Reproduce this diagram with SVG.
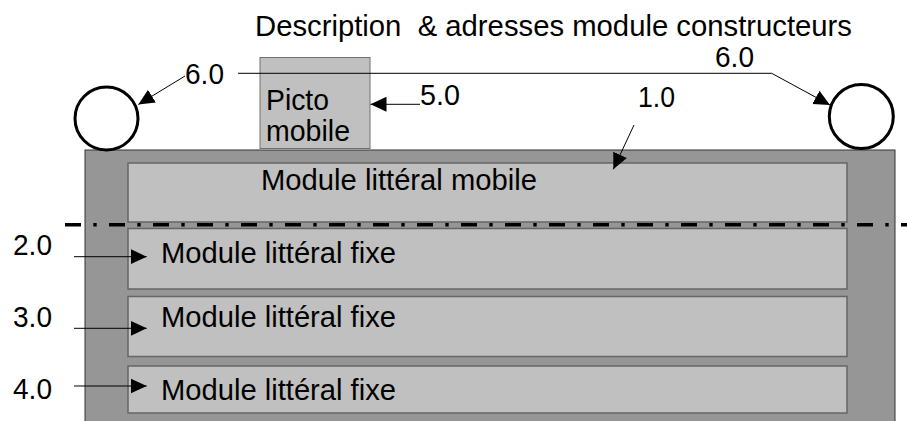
<svg xmlns="http://www.w3.org/2000/svg" width="907" height="421" viewBox="0 0 907 421">
<style>
.t{font-family:"Liberation Sans",Arial,sans-serif;font-size:29px;fill:#000}
.box{fill:#c0c0c0;stroke:#666;stroke-width:1.5}
.c{stroke:#000;stroke-width:1;fill:none}
.circ{fill:#fff;stroke:#000;stroke-width:3}
</style>
<defs>
<marker id="ah" markerUnits="userSpaceOnUse" markerWidth="18" markerHeight="18" refX="16" refY="8" orient="auto"><path d="M0,0.5 L16,8 L0,15.5 z" fill="#000"/></marker>
</defs>
<rect width="907" height="421" fill="#fff"/>
<text class="t" x="255" y="36" textLength="597" lengthAdjust="spacingAndGlyphs" xml:space="preserve">Description  &amp; adresses module constructeurs</text>
<g id="outer"><rect x="85" y="150" width="810" height="290" fill="#969696" stroke="#333" stroke-width="1"/></g>
<g id="mobile"><rect class="box" x="128" y="163" width="719" height="59"/><text class="t" x="261" y="190" textLength="276" lengthAdjust="spacingAndGlyphs">Module littéral mobile</text></g>
<g id="fixe1"><rect class="box" x="128" y="228.5" width="719" height="60.5"/><text class="t" x="161" y="263" textLength="235" lengthAdjust="spacingAndGlyphs">Module littéral fixe</text></g>
<g id="fixe2"><rect class="box" x="128" y="296.5" width="719" height="60"/><text class="t" x="161" y="327" textLength="235" lengthAdjust="spacingAndGlyphs">Module littéral fixe</text></g>
<g id="fixe3"><rect class="box" x="128" y="366" width="719" height="47"/><text class="t" x="161" y="400" textLength="235" lengthAdjust="spacingAndGlyphs">Module littéral fixe</text></g>
<g id="picto"><rect x="260" y="57.5" width="110" height="91" fill="#c0c0c0" stroke="#707070" stroke-width="1"/><text class="t" x="266" y="110" textLength="63" lengthAdjust="spacingAndGlyphs">Picto</text><text class="t" x="266" y="141" textLength="84" lengthAdjust="spacingAndGlyphs">mobile</text></g>
<g id="circleLeft"><circle class="circ" cx="106.5" cy="118.5" r="31.5"/></g>
<g id="circleRight"><circle class="circ" cx="861.3" cy="116.5" r="32"/></g>
<g id="separator"><line x1="65" y1="224.7" x2="907" y2="224.7" stroke="#000" stroke-width="3.5" stroke-dasharray="16 12.3 3.4 12.3"/></g>
<g id="labels">
<text class="t" x="185" y="84" textLength="39" lengthAdjust="spacingAndGlyphs">6.0</text>
<text class="t" x="715" y="67" textLength="39" lengthAdjust="spacingAndGlyphs">6.0</text>
<text class="t" x="420" y="105" textLength="40" lengthAdjust="spacingAndGlyphs">5.0</text>
<text class="t" x="638" y="107" textLength="37" lengthAdjust="spacingAndGlyphs">1.0</text>
<text class="t" x="13" y="255" textLength="39" lengthAdjust="spacingAndGlyphs">2.0</text>
<text class="t" x="13" y="327" textLength="39" lengthAdjust="spacingAndGlyphs">3.0</text>
<text class="t" x="13" y="399" textLength="39" lengthAdjust="spacingAndGlyphs">4.0</text>
</g>
<g id="connectors">
<line class="c" x1="185" y1="76" x2="138.3" y2="104.5" marker-end="url(#ah)"/>
<polyline class="c" points="238,73.3 771.7,73.3 830,105" marker-end="url(#ah)"/>
<line class="c" x1="420" y1="104.3" x2="370.5" y2="104.3" marker-end="url(#ah)"/>
<line class="c" x1="634" y1="125" x2="613.3" y2="169.3" marker-end="url(#ah)"/>
<line class="c" x1="74" y1="256.7" x2="146.7" y2="256.7" marker-end="url(#ah)"/>
<line class="c" x1="74" y1="328.3" x2="146.7" y2="328.3" marker-end="url(#ah)"/>
<line class="c" x1="74" y1="386" x2="146.7" y2="386" marker-end="url(#ah)"/>
</g>
</svg>
